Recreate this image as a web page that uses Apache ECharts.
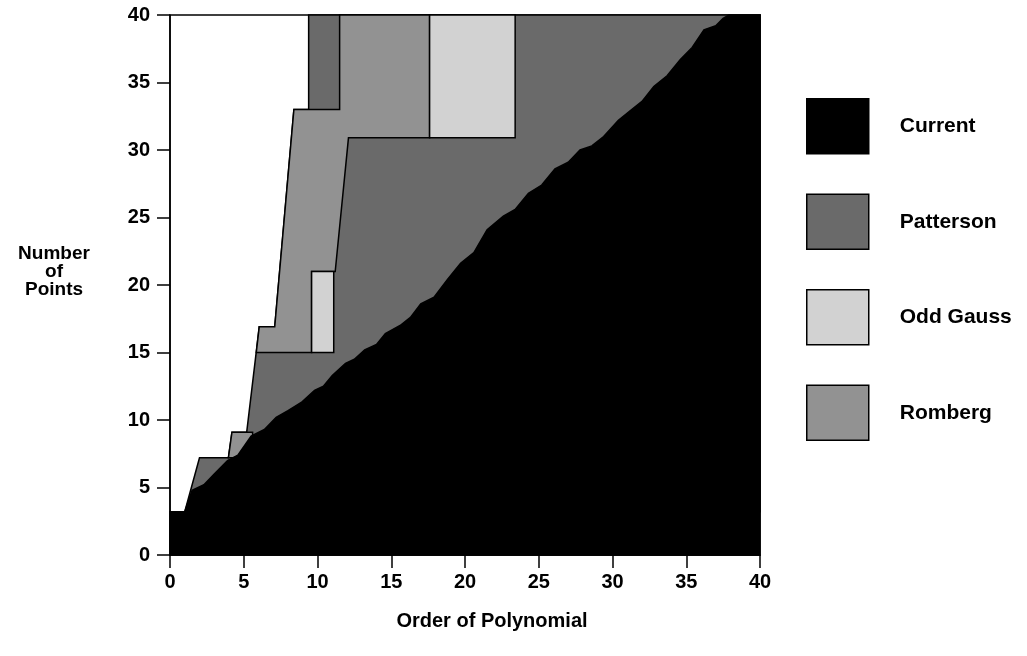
<!DOCTYPE html>
<html><head><meta charset="utf-8">
<script src="https://cdn.jsdelivr.net/npm/echarts@6/dist/echarts.min.js"></script>
<style>html,body{margin:0;padding:0;background:#fff}#c{width:1027px;height:656px}</style>
</head><body><div id="c"></div>
<script>
// Legend / series names
const seriesNames = ['Current', 'Patterson', 'Odd Gauss', 'Romberg'];
// Axis titles
const xTitle = 'Order of Polynomial';
const yTitle = 'Number\nof\nPoints';

// Region outlines, as [order, points] vertices
const currentRegion = [
  [0,0],[0,3.2],[1.0,3.2],[1.5,4.8],[2.3,5.2],[3.0,6.0],[3.9,7.0],[4.6,7.4],[5.5,8.8],[6.4,9.3],
  [7.2,10.2],[8.0,10.7],[8.9,11.3],[9.8,12.2],[10.4,12.5],[11.0,13.3],[11.9,14.2],[12.5,14.5],
  [13.2,15.2],[14.0,15.6],[14.6,16.4],[15.6,17.0],[16.3,17.6],[17.0,18.6],[17.9,19.1],[18.8,20.4],
  [19.7,21.6],[20.6,22.4],[21.5,24.1],[22.6,25.1],[23.4,25.6],[24.3,26.8],[25.2,27.4],[26.1,28.6],
  [27.0,29.1],[27.8,30.0],[28.6,30.3],[29.4,31.0],[30.4,32.2],[31.3,33.0],[32.0,33.6],[32.8,34.7],
  [33.7,35.5],[34.6,36.7],[35.4,37.6],[36.2,38.9],[37.0,39.2],[37.5,39.75],[37.9,40],[40,40],[40,0]
];
const pattersonRegions = [
  [[1.0,3.2],[2.0,7.2],[3.96,7.2],[4.2,9.1],[5.2,9.1],[6.05,16.9],[7.1,16.9],[8.4,33],[9.4,33],[9.4,40],[40,40],[40,3.2]]
];
const rombergRegions = [
  [[3.96,7.2],[5.6,7.2],[5.6,9.1],[4.2,9.1]],
  [[5.85,15],[9.6,15],[9.6,21],[11.2,21],[12.1,30.9],[17.6,30.9],[17.6,40],[11.5,40],[11.5,33],[8.4,33],[7.1,16.9],[6.05,16.9]]
];
const oddGaussRegions = [
  [[9.6,15],[11.1,15],[11.1,21],[9.6,21]],
  [[17.6,30.9],[23.4,30.9],[23.4,40],[17.6,40]]
];

const colors = { 'Current': '#000000', 'Patterson': '#6a6a6a', 'Odd Gauss': '#d2d2d2', 'Romberg': '#929292' };
const FONT = '"Liberation Sans", Arial, Helvetica, sans-serif';

function polySeries(name, polys, strokeColor) {
  return {
    name: name,
    type: 'custom',
    coordinateSystem: 'cartesian2d',
    itemStyle: { color: colors[name] },
    encode: { x: 0, y: 1 },
    data: polys.map(p => [p[0][0], p[0][1]]),
    silent: true,
    renderItem: function (params, api) {
      const poly = polys[params.dataIndex];
      return {
        type: 'polygon',
        shape: { points: poly.map(pt => api.coord(pt)) },
        style: { fill: colors[name], stroke: strokeColor, lineWidth: 1.5 }
      };
    }
  };
}

const chart = echarts.init(document.getElementById('c'));
chart.setOption({
  animation: false,
  backgroundColor: '#fff',
  grid: { left: 170, right: 267, top: 15, bottom: 101, show: true, borderColor: '#000', borderWidth: 1.5 },
  xAxis: {
    type: 'value', min: 0, max: 40, interval: 5,
    axisLine: { show: true, lineStyle: { color: '#000', width: 1.5 } },
    axisTick: { show: true, length: 13, lineStyle: { color: '#000', width: 1.5 } },
    axisLabel: { margin: 17, fontFamily: FONT, fontWeight: 'bold', fontSize: 20, color: '#000' },
    splitLine: { show: false }
  },
  yAxis: {
    type: 'value', min: 0, max: 40, interval: 5,
    axisLine: { show: true, lineStyle: { color: '#000', width: 1.5 } },
    axisTick: { show: true, length: 13, lineStyle: { color: '#000', width: 1.5 } },
    axisLabel: { margin: 20, fontFamily: FONT, fontWeight: 'bold', fontSize: 20, color: '#000' },
    splitLine: { show: false }
  },
  legend: {
    data: seriesNames, orient: 'vertical', left: 801, top: 93,
    itemWidth: 62, itemHeight: 55, itemGap: 39, icon: 'rect', selectedMode: false,
    itemStyle: { borderColor: '#000', borderWidth: 1.5 },
    textStyle: { fontFamily: FONT, fontWeight: 'bold', fontSize: 21, color: '#000', padding: [0, 0, 0, 26] }
  },
  graphic: [{
    type: 'text', x: 54, y: 245,
    style: { text: yTitle, fontFamily: FONT, fontWeight: 'bold', fontSize: 19, lineHeight: 18, fill: '#000', align: 'center' }
  }, {
    type: 'text', x: 492, y: 621,
    style: { text: xTitle, fontFamily: FONT, fontWeight: 'bold', fontSize: 20, fill: '#000', align: 'center', verticalAlign: 'middle' }
  }],
  series: [
    polySeries('Patterson', pattersonRegions, '#000'),
    polySeries('Romberg', rombergRegions, '#000'),
    polySeries('Odd Gauss', oddGaussRegions, '#000'),
    polySeries('Current', [currentRegion], '#000')
  ]
});
</script></body></html>
